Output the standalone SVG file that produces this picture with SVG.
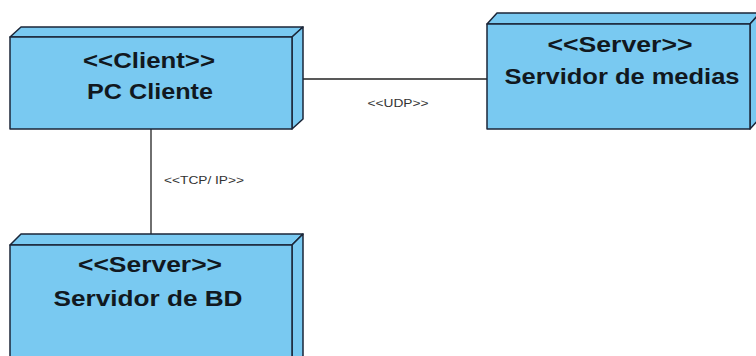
<svg xmlns="http://www.w3.org/2000/svg" width="756" height="356" viewBox="0 0 756 356">
<style>
.face{fill:#79C9F1;stroke:#1B2638;stroke-width:1.5;stroke-linejoin:round}
.t{font-family:"Liberation Sans",Arial,sans-serif;font-weight:bold;font-size:22px;fill:#111820;text-anchor:middle}
.lbl{font-family:"Liberation Sans",Arial,sans-serif;font-size:11px;fill:#333;text-anchor:middle}
.conn{stroke:#222;stroke-width:1.3;fill:none}
</style>
<rect width="756" height="356" fill="#fff"/>
<g id="connectors">
<line class="conn" x1="303" y1="79" x2="487" y2="79"/>
<line class="conn" x1="151" y1="129" x2="151" y2="235"/>
<text class="lbl" x="398" y="107" textLength="61" lengthAdjust="spacingAndGlyphs">&lt;&lt;UDP&gt;&gt;</text>
<text class="lbl" x="204" y="184" textLength="80" lengthAdjust="spacingAndGlyphs">&lt;&lt;TCP/ IP&gt;&gt;</text>
</g>
<g id="pc-cliente">
<polygon class="face" points="10,37 21,27 303,27 292,37"/>
<polygon class="face" points="292,37 303,27 303,119 292,129"/>
<rect class="face" x="10" y="37" width="282" height="92"/>
<text class="t" x="149" y="68" textLength="132" lengthAdjust="spacingAndGlyphs">&lt;&lt;Client&gt;&gt;</text>
<text class="t" x="150" y="99" textLength="126" lengthAdjust="spacingAndGlyphs">PC Cliente</text>
</g>
<g id="servidor-medias">
<polygon class="face" points="487,24 497,13 760,13 750,24"/>
<polygon class="face" points="750,24 760,13 760,118 750,129"/>
<rect class="face" x="487" y="24" width="263" height="105"/>
<text class="t" x="620" y="52" textLength="145" lengthAdjust="spacingAndGlyphs">&lt;&lt;Server&gt;&gt;</text>
<text class="t" x="622" y="84" textLength="235" lengthAdjust="spacingAndGlyphs">Servidor de medias</text>
</g>
<g id="servidor-bd">
<polygon class="face" points="10,245 21,234 303,234 292,245"/>
<polygon class="face" points="292,245 303,234 303,356 292,366"/>
<rect class="face" x="10" y="245" width="282" height="125"/>
<text class="t" x="150" y="272" textLength="144" lengthAdjust="spacingAndGlyphs">&lt;&lt;Server&gt;&gt;</text>
<text class="t" x="148" y="306" textLength="189" lengthAdjust="spacingAndGlyphs">Servidor de BD</text>
</g>
</svg>
